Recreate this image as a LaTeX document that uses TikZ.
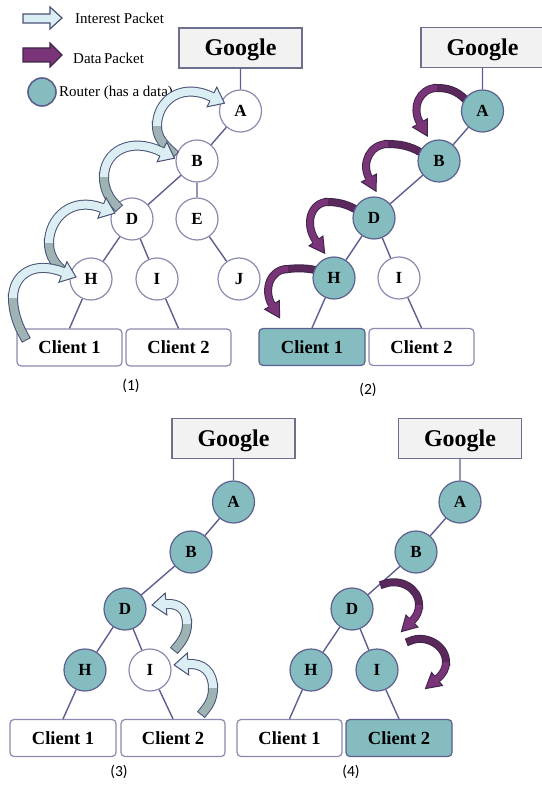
\documentclass[tikz,border=0pt]{standalone}
\usepackage{fontspec}
\setmainfont{Liberation Serif}
\newfontfamily\capfont{Carlito}
\usetikzlibrary{decorations.markings}

\definecolor{routerfill}{HTML}{84BCBF}
\definecolor{edgeblue}{HTML}{5C5F8F}
\definecolor{ringgray}{HTML}{8C8AAE}
\definecolor{boxgray}{HTML}{F2F2F2}
\definecolor{boxline}{HTML}{6E6E8E}
\definecolor{ilight}{HTML}{DAEEF3}
\definecolor{idark}{HTML}{9EB3B3}
\definecolor{iborder}{HTML}{4A5274}
\definecolor{dlight}{HTML}{7A3478}
\definecolor{ddark}{HTML}{5B285C}
\definecolor{dborder}{HTML}{40254A}

\tikzset{
  router/.style={circle, minimum size=42pt, inner sep=0pt, draw=edgeblue,
    line width=1.2pt, fill=routerfill, text height=11.3pt, text depth=0pt,
    font=\bfseries\fontsize{17}{17}\selectfont},
  plain/.style={router, fill=white, draw=ringgray},
  google/.style={rectangle, draw=boxline, fill=boxgray, line width=1.2pt,
    minimum width=123pt, minimum height=40pt, inner sep=0pt,
    text height=16pt, text depth=0pt,
    font=\bfseries\fontsize{24}{24}\selectfont},
  client/.style={rectangle, rounded corners=4pt, draw=ringgray, fill=white,
    line width=1.2pt, minimum width=105pt, minimum height=37pt, inner sep=0pt,
    text height=12.5pt, text depth=0pt,
    font=\bfseries\fontsize{18.5}{18.5}\selectfont},
  clientdata/.style={client, fill=routerfill, draw=edgeblue},
  link/.style={draw=edgeblue, line width=1.4pt},
  caption/.style={font=\capfont\fontsize{15.5}{15.5}\selectfont},
  legendtext/.style={anchor=base west, inner sep=0pt,
    font=\fontsize{15}{15}\selectfont},
  ishaft/.style={draw=iborder, line width=1pt, double distance=8pt},
  dshaft/.style={draw=dborder, line width=1pt, double distance=6pt},
}

% curved block arrow carrying an interest packet:
% #1 = tail part of the centre line, #2 = head part of the centre line
\newcommand\interestarrow[2]{%
  \draw[ishaft, double=idark, line cap=rect] #1;
  \draw[ishaft, double=ilight] #2;
  \path[decorate, decoration={markings, mark=at position 0.999 with {%
      \fill[ilight] (0,-11) -- (14,0) -- (0,11) -- cycle;
      \draw[iborder, line width=1pt, line join=miter]
        (0,-4.5) -- (0,-11) -- (14,0) -- (0,11) -- (0,4.5);}}] #2;
}
% curved block arrow carrying a data packet
\newcommand\dataarrow[2]{%
  \draw[dshaft, double=ddark, line cap=rect] #1;
  \draw[dshaft, double=dlight] #2;
  \path[decorate, decoration={markings, mark=at position 0.999 with {%
      \fill[dlight] (0,-8.5) -- (15,0) -- (0,8.5) -- cycle;
      \draw[dborder, line width=1pt, line join=miter]
        (0,-3.5) -- (0,-8.5) -- (15,0) -- (0,8.5) -- (0,3.5);}}] #2;
}

\begin{document}
\begin{tikzpicture}[x=1pt, y=-1pt]
\useasboundingbox (0,0) rectangle (541,791);

% ---------- legend ----------
\draw[draw=iborder, line width=1.2pt, fill=ilight]
  (23,14) -- (50,14) -- (50,7) -- (62,18) -- (50,29) -- (50,23) -- (23,23) -- cycle;
\node[legendtext] (linterest) at (75,23.3) {Interest Packet};
\draw[draw=dborder, line width=1.2pt, fill=dlight]
  (23,48) -- (50,48) -- (50,43) -- (62,55) -- (50,67) -- (50,62) -- (23,62) -- cycle;
\node[legendtext] (ldata) at (73,63.3) {Data\,Packet};
\node[router, minimum size=28pt, line width=1.6pt] (lrouter) at (42,92) {};
\node[legendtext] (lroutertext) at (59,96.7) {Router (has a data)};

% ---------- (1) interest packets travel up ----------
\node[google] (g1) at (240.5,48) {Google};
\node[plain] (a1) at (240.5,111) {A};
\node[plain] (b1) at (197,161) {B};
\node[plain] (d1) at (132,219) {D};
\node[plain] (e1) at (197,219) {E};
\node[plain] (h1) at (91,279) {H};
\node[plain] (i1) at (157,279) {I};
\node[plain] (j1) at (239,279) {J};
\node[client] (c11) at (69.5,347.5) {Client 1};
\node[client] (c12) at (178.5,347.5) {Client 2};
\node[caption] (cap1) at (131,386) {(1)};
\draw[link] (g1) -- (a1) (a1) -- (b1) (b1) -- (d1) (b1) -- (e1) (e1) -- (j1)
  (d1) -- (h1) (d1) -- (i1) (h1) -- (c11.north) (i1) -- (c12.north);

\interestarrow{(172,152) .. controls (162,143) and (157,136) .. (157,126)}
              {(157,126) .. controls (157,100) and (182,82) .. (212,97)}
\interestarrow{(116,205) .. controls (108,197) and (104,188) .. (104,177)}
              {(104,177) .. controls (104,152) and (130,136) .. (162,152)}
\interestarrow{(60,268) .. controls (53,261) and (49,253) .. (49,243)}
              {(49,243) .. controls (49,218) and (72,196) .. (102,208)}
\interestarrow{(24,336) .. controls (17,324) and (13,310) .. (13,298)}
              {(13,298) .. controls (13,276) and (32,260) .. (63,272)}

% ---------- (2) data packets travel down ----------
\dataarrow{(466,100) .. controls (456,90) and (447,88) .. (437,88)}
          {(437,88) .. controls (420,88) and (411,107) .. (420,123)}
\dataarrow{(420,152) .. controls (410,146) and (399,144) .. (388,144)}
          {(388,144) .. controls (370,144) and (361,163) .. (369,178)}
\dataarrow{(355,209) .. controls (346,204) and (337,202) .. (328,202)}
          {(328,202) .. controls (311,202) and (304,224) .. (316,241)}
\dataarrow{(315,270) .. controls (306,268) and (297,268) .. (288,269)}
          {(288,269) .. controls (270,269) and (263,290) .. (272,305)}

\node[google] (g2) at (482.5,47.5) {Google};
\node[router] (a2) at (482.5,111) {A};
\node[router] (b2) at (439,161) {B};
\node[router] (d2) at (374,218) {D};
\node[router] (h2) at (334,278) {H};
\node[plain] (i2) at (399,278) {I};
\node[clientdata, minimum width=106pt] (c21) at (312,347) {Client 1};
\node[client] (c22) at (421.5,347) {Client 2};
\node[caption] (cap2) at (368,390) {(2)};
\draw[link] (g2) -- (a2) (a2) -- (b2) (b2) -- (d2) (d2) -- (h2) (d2) -- (i2)
  (h2) -- (c21.north) (i2) -- (c22.north);

% ---------- (3) a second client asks for the same data ----------
\node[google] (g3) at (233.5,438.5) {Google};
\node[router] (a3) at (233.5,502) {A};
\node[router] (b3) at (191,552) {B};
\node[router] (d3) at (125,609) {D};
\node[router] (h3) at (85,670) {H};
\node[plain] (i3) at (150,670) {I};
\node[client, minimum width=106pt] (c31) at (63,738) {Client 1};
\node[client, minimum width=104pt] (c32) at (173,738) {Client 2};
\node[caption] (cap3) at (119,772) {(3)};
\draw[link] (g3) -- (a3) (a3) -- (b3) (b3) -- (d3) (d3) -- (h3) (d3) -- (i3)
  (h3) -- (c31.north) (i3) -- (c32.north);

\interestarrow{(177,647) .. controls (183,640) and (187,633) .. (187,624)}
              {(187,624) .. controls (187,610) and (179,603) .. (166,604)}
\interestarrow{(204,711) .. controls (210,704) and (213,697) .. (213,688)}
              {(213,688) .. controls (213,672) and (203,663) .. (188,664)}

% ---------- (4) router D answers from its own copy ----------
\node[google] (g4) at (460,438.5) {Google};
\node[router] (a4) at (460,502) {A};
\node[router] (b4) at (416,552) {B};
\node[router] (d4) at (352,609) {D};
\node[router] (h4) at (311,670) {H};
\node[router] (i4) at (377,670) {I};
\node[client] (c41) at (289.5,738) {Client 1};
\node[clientdata, minimum width=106pt] (c42) at (399,738) {Client 2};
\node[caption] (cap4) at (351,772) {(4)};
\draw[link] (g4) -- (a4) (a4) -- (b4) (b4) -- (d4) (d4) -- (h4) (d4) -- (i4)
  (h4) -- (c41.north) (i4) -- (c42.north);

\dataarrow{(384,584) .. controls (400,578) and (419,588) .. (419,605)}
          {(419,605) .. controls (419,611) and (417,616) .. (412,621)}
\dataarrow{(410,641) .. controls (425,634) and (446,645) .. (446,662)}
          {(446,662) .. controls (446,669) and (443,674) .. (437,679)}
\end{tikzpicture}
\end{document}
